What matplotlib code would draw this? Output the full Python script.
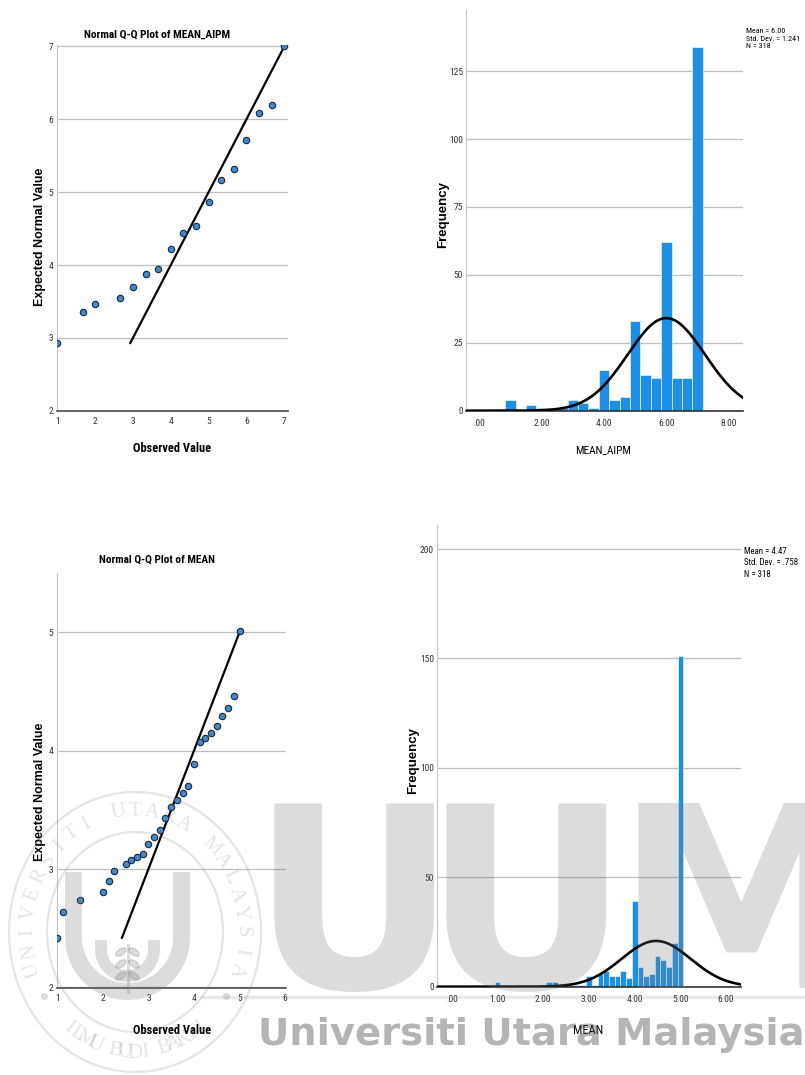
import numpy as np
import matplotlib
matplotlib.use("Agg")
import matplotlib.pyplot as plt
from matplotlib import font_manager
from matplotlib.patches import Ellipse

W, H = 805, 1075

# Normal Q-Q plot of MEAN_AIPM
aipm_observed = [1.0, 1.667, 2.0, 2.667, 3.0, 3.333, 3.667, 4.0, 4.333,
                 4.667, 5.0, 5.333, 5.667, 6.0, 6.333, 6.667, 7.0]
aipm_expected = [2.93, 3.35, 3.47, 3.55, 3.70, 3.87, 3.95, 4.22, 4.445,
                 4.54, 4.86, 5.17, 5.32, 5.71, 6.08, 6.19, 7.0]
aipm_qq_xticks = [1, 2, 3, 4, 5, 6, 7]
aipm_qq_yticks = [2, 3, 4, 5, 6, 7]

# Histogram of MEAN_AIPM (bins of width 1/3)
aipm_bins = [1.0, 1.667, 2.0, 2.667, 3.0, 3.333, 3.667, 4.0, 4.333,
             4.667, 5.0, 5.333, 5.667, 6.0, 6.333, 6.667, 7.0]
aipm_counts = [4, 2, 1, 1, 4, 3, 1, 15, 4, 5, 33, 13, 12, 62, 12, 12, 134]
aipm_bin_width = 1 / 3
aipm_mean, aipm_sd, aipm_n = 6.00, 1.241, 318
aipm_xticks = [0, 2, 4, 6, 8]
aipm_xticklabels = [".00", "2.00", "4.00", "6.00", "8.00"]
aipm_yticks = [0, 25, 50, 75, 100, 125]

# Normal Q-Q plot of MEAN
mean_observed = [1.0, 1.125, 1.5, 2.0, 2.125, 2.25, 2.5, 2.625, 2.75, 2.875,
                 3.0, 3.125, 3.25, 3.375, 3.5, 3.625, 3.75, 3.875, 4.0,
                 4.125, 4.25, 4.375, 4.5, 4.625, 4.75, 4.875, 5.0]
mean_expected = [2.42, 2.64, 2.74, 2.81, 2.90, 2.98, 3.04, 3.08, 3.10, 3.13,
                 3.21, 3.27, 3.33, 3.43, 3.52, 3.58, 3.64, 3.70, 3.89,
                 4.07, 4.11, 4.15, 4.21, 4.29, 4.36, 4.46, 5.01]
mean_qq_xticks = [1, 2, 3, 4, 5, 6]
mean_qq_yticks = [2, 3, 4, 5]

# Histogram of MEAN (bins of width 1/8)
mean_bins = mean_observed
mean_counts = [2, 1, 1, 1, 2, 2, 1, 1, 1, 1, 5, 1, 6, 7, 5, 5, 7, 4, 39,
               9, 5, 6, 14, 12, 9, 20, 151]
mean_bin_width = 1 / 8
mean_mean, mean_sd, mean_n = 4.47, 0.758, 318
mean_xticks = [0, 1, 2, 3, 4, 5, 6]
mean_xticklabels = [".00", "1.00", "2.00", "3.00", "4.00", "5.00", "6.00"]
mean_yticks = [0, 50, 100, 150, 200]


def pick_narrow_font():
    fonts = font_manager.fontManager.ttflist
    names = {f.name for f in fonts}
    for fam in ["Liberation Sans Narrow", "Roboto Condensed",
                "Open Sans Condensed", "Noto Sans Condensed"]:
        if fam in names:
            return fam, "normal"
    if any(f.name == "DejaVu Sans" and "Condensed" in f.fname for f in fonts):
        return "DejaVu Sans", "condensed"
    return "Liberation Sans", "normal"


NARROW, STRETCH = pick_narrow_font()
WIDE = ["Liberation Sans", "DejaVu Sans"]
plt.rcParams["font.family"] = [NARROW, "DejaVu Sans"]
plt.rcParams["font.stretch"] = STRETCH

fig = plt.figure(figsize=(W / 100, H / 100), dpi=100)
fig.patch.set_facecolor("white")
renderer = fig.canvas.get_renderer()


def px_rect(left, top, right, bottom):
    return [left / W, 1 - bottom / H, (right - left) / W, (bottom - top) / H]


def put_text(x, y, s, max_width=None, **kw):
    t = fig.text(x / W, 1 - y / H, s, **kw)
    if max_width is not None:
        w = t.get_window_extent(renderer).width
        if w > max_width:
            t.set_fontsize(t.get_fontsize() * max_width / w)
    return t


def style_axes(ax, xpad, ypad):
    for side in ("top", "right"):
        ax.spines[side].set_visible(False)
    ax.spines["left"].set_color("#c4c4c4")
    ax.spines["left"].set_linewidth(0.8)
    ax.spines["bottom"].set_color("#4a4a4a")
    ax.spines["bottom"].set_linewidth(1.2)
    ax.tick_params(length=0, labelsize=6.8, labelcolor="#333333")
    ax.tick_params(axis="x", pad=xpad)
    ax.tick_params(axis="y", pad=ypad)
    ax.yaxis.grid(True, color="#bdbdbd", lw=0.9)
    ax.set_axisbelow(True)


def qq_panel(rect, observed, expected, xticks, yticks, xlim, ylim):
    ax = fig.add_axes(rect)
    ax.plot(observed, expected, "o", ms=4.6, mfc="#4189cc", mec="#1c2633",
            mew=0.8, zorder=3)
    ref = [min(expected), max(expected)]
    ax.plot(ref, ref, color="black", lw=1.6, zorder=2)
    ax.set_xlim(*xlim)
    ax.set_ylim(*ylim)
    ax.set_xticks(xticks)
    ax.set_yticks(yticks)
    style_axes(ax, xpad=4.5, ypad=3)
    return ax


def hist_panel(rect, bins, counts, width, mu, sd, n, xticks, xlabels,
               yticks, xlim, ylim):
    ax = fig.add_axes(rect)
    ax.bar(bins, counts, width=width, color="#1f8fe6", edgecolor="white",
           lw=0.4, zorder=2)
    xs = np.linspace(xlim[0], xlim[1], 400)
    pdf = np.exp(-0.5 * ((xs - mu) / sd) ** 2) / (sd * np.sqrt(2 * np.pi))
    ax.plot(xs, n * width * pdf, color="black", lw=1.9, zorder=3)
    ax.set_xlim(*xlim)
    ax.set_ylim(*ylim)
    ax.set_xticks(xticks)
    ax.set_xticklabels(xlabels)
    ax.set_yticks(yticks)
    style_axes(ax, xpad=6, ypad=2)
    ax.spines["bottom"].set_color("#333333")
    return ax


def stats_label(mu, sd, n):
    sd_txt = f"{sd:.3f}".lstrip("0") if sd < 1 else f"{sd:.3f}"
    return f"Mean = {mu:.2f}\nStd. Dev. = {sd_txt}\nN = {n}"


# top row
qq_panel(px_rect(57.3, 45, 287.5, 410.7), aipm_observed, aipm_expected,
         aipm_qq_xticks, aipm_qq_yticks, (1, 7.085), (2, 7.02))
hist_panel(px_rect(465.7, 10, 742.7, 410.7), aipm_bins, aipm_counts,
           aipm_bin_width, aipm_mean, aipm_sd, aipm_n, aipm_xticks,
           aipm_xticklabels, aipm_yticks, (-0.436, 8.45), (0, 147.5))

# bottom row
qq_panel(px_rect(57.3, 573, 286, 987.5), mean_observed, mean_expected,
         mean_qq_xticks, mean_qq_yticks, (1, 6.02), (2, 5.5))
hist_panel(px_rect(436.7, 525, 740.7, 986.7), mean_bins, mean_counts,
           mean_bin_width, mean_mean, mean_sd, mean_n, mean_xticks,
           mean_xticklabels, mean_yticks, (-0.33, 6.32), (0, 211))

# titles, axis labels and statistics boxes
put_text(157, 35, "Normal Q-Q Plot of MEAN_AIPM", max_width=146, ha="center",
         va="center", fontsize=10, fontweight="bold")
put_text(157, 560, "Normal Q-Q Plot of MEAN", max_width=116, ha="center",
         va="center", fontsize=10, fontweight="bold")
put_text(172, 448, "Observed Value", max_width=78, ha="center", va="center",
         fontsize=10, fontweight="bold")
put_text(172, 1030, "Observed Value", max_width=78, ha="center", va="center",
         fontsize=10, fontweight="bold")
put_text(603, 450, "MEAN_AIPM", max_width=56, ha="center", va="center",
         fontsize=10)
put_text(588, 1031, "MEAN", max_width=30, ha="center", va="center",
         fontsize=10)
put_text(40, 237, "Expected Normal Value", ha="center", va="center",
         rotation=90, fontsize=9, fontweight="bold", family=WIDE,
         fontstretch="normal")
put_text(40, 792, "Expected Normal Value", ha="center", va="center",
         rotation=90, fontsize=9, fontweight="bold", family=WIDE,
         fontstretch="normal")
put_text(443, 214, "Frequency", ha="center", va="center", rotation=90,
         fontsize=9.5, fontweight="bold", family=WIDE, fontstretch="normal")
put_text(413, 760, "Frequency", ha="center", va="center", rotation=90,
         fontsize=9.5, fontweight="bold", family=WIDE, fontstretch="normal")
put_text(746, 28, stats_label(aipm_mean, aipm_sd, aipm_n), max_width=54,
         ha="left", va="top", fontsize=6.6, linespacing=1.35)
put_text(744, 547, stats_label(mean_mean, mean_sd, mean_n), max_width=54,
         ha="left", va="top", fontsize=6.6, linespacing=1.35)

# university watermark over the lower half
wm = fig.add_axes([0, 0, 1, 1], zorder=10)
wm.set_xlim(0, W)
wm.set_ylim(H, 0)
wm.axis("off")
wm.patch.set_alpha(0)

shade = dict(color="#7a7a7a", alpha=0.26)
for ch, x in zip("UUM", [251, 423, 615]):
    wm.text(x, 988, ch, fontsize=183, fontweight="bold", family="DejaVu Sans",
            fontstretch="normal", ha="left", va="baseline", **shade)
wm.plot([200, 805], [997, 997], lw=2.5, solid_capstyle="butt",
        color="#7a7a7a", alpha=0.16)
wm.text(258, 1045, "Universiti Utara Malaysia", fontsize=27.7,
        fontweight="bold", family="DejaVu Sans", fontstretch="normal",
        ha="left", va="baseline", color="#5a5a5a", alpha=0.45)

# seal: rings, lettering and emblem
seal = dict(color="#7a7a7a", alpha=0.2)
cx, cy = 135, 932
for rx, ry in [(126, 140), (88, 100)]:
    wm.add_patch(Ellipse((cx, cy), 2 * rx, 2 * ry, fill=False, lw=1.6,
                         ec="#7a7a7a", alpha=0.2))
ring_a, ring_b = 107, 121
serif = ["Liberation Serif", "DejaVu Serif"]
top_word = "UNIVERSITI UTARA MALAYSIA"
for ch, th in zip(top_word, np.linspace(198, -18, len(top_word))):
    t = np.radians(th)
    wm.text(cx + ring_a * np.cos(t), cy - ring_b * np.sin(t), ch,
            rotation=th - 90, ha="center", va="center", fontsize=15,
            family=serif, fontstretch="normal", **seal)
bottom_word = "ILMU BUDI BAKTI"
for ch, th in zip(bottom_word, np.linspace(232, 308, len(bottom_word))):
    t = np.radians(th)
    wm.text(cx + ring_a * np.cos(t), cy - ring_b * np.sin(t), ch,
            rotation=th + 90, ha="center", va="center", fontsize=15,
            family=serif, fontstretch="normal", **seal)
for th in (212, 328):
    t = np.radians(th)
    wm.plot(cx + ring_a * np.cos(t), cy - ring_b * np.sin(t), "o", ms=4,
            **seal)

for ucx, ucy, r, top, lw in [(127.5, 937.5, 54, 872, 12.2),
                             (127.5, 949.5, 26.5, 940, 8.6)]:
    t = np.linspace(0, np.pi, 60)
    xs = np.concatenate([[ucx - r], ucx - r * np.cos(t), [ucx + r]])
    ys = np.concatenate([[top], ucy + r * np.sin(t), [top]])
    wm.plot(xs, ys, lw=lw, solid_capstyle="butt", **shade)
wm.plot([127.5, 127.5], [945, 992], lw=2.2, **shade)
for ly in (952, 964, 976):
    wm.add_patch(Ellipse((121, ly), 12, 6, angle=-35, **shade))
    wm.add_patch(Ellipse((134, ly), 12, 6, angle=35, **shade))

fig.savefig("out.png", dpi=100, facecolor="white")
